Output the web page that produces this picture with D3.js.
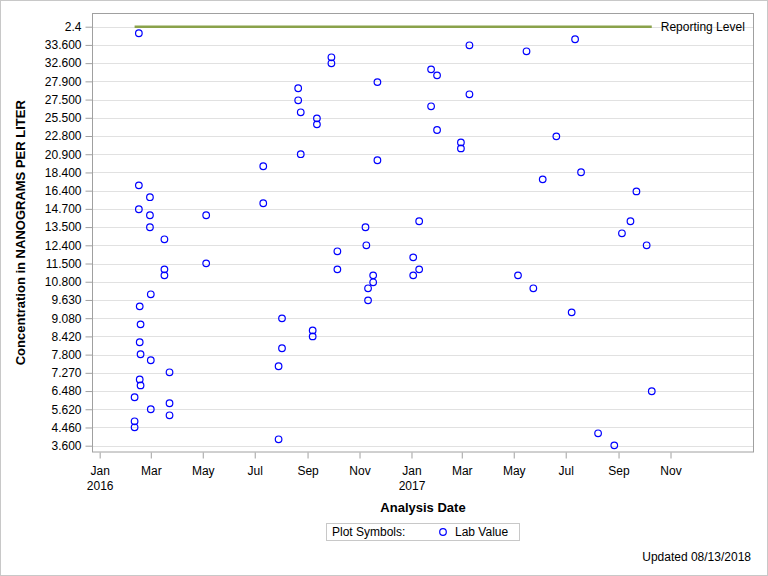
<!DOCTYPE html>
<html><head><meta charset="utf-8">
<script src="https://cdn.jsdelivr.net/npm/d3@7"></script>
<style>
html,body{margin:0;padding:0;background:#fff;}
svg{display:block;font-family:"Liberation Sans",Arial,sans-serif;}
</style></head>
<body><svg id="c" width="768" height="576"></svg>
<script>
// Y axis tick labels (top to bottom); axis positions are tick indices 0..23
const yTickLabels = ["2.4","33.600","32.600","27.900","27.500","25.500","22.800","20.900","18.400","16.400","14.700","13.500","12.400","11.500","10.800","9.630","9.080","8.420","7.800","7.270","6.480","5.620","4.460","3.600"];
const reportingLevel = 0; // position of the "2.4" reporting level
const reportingStart = "2016-02-11", reportingEnd = "2017-10-10";
const xTickDates = ["2016-01-01","2016-03-01","2016-05-01","2016-07-01","2016-09-01","2016-11-01","2017-01-01","2017-03-01","2017-05-01","2017-07-01","2017-09-01","2017-11-01"];
// Lab values: analysis date and position on the y axis
const sampleDates = [
 "2016-02-11","2016-02-11","2016-02-11",
 "2016-02-16","2016-02-16","2016-02-16",
 "2016-02-17","2016-02-17","2016-02-17",
 "2016-02-18","2016-02-18","2016-02-18",
 "2016-02-29","2016-02-29","2016-02-29",
 "2016-03-01","2016-03-01","2016-03-01",
 "2016-03-17","2016-03-17","2016-03-17",
 "2016-03-23","2016-03-23","2016-03-23",
 "2016-05-05","2016-05-05",
 "2016-07-11","2016-07-11",
 "2016-07-29","2016-07-29",
 "2016-08-02","2016-08-02",
 "2016-08-21","2016-08-21",
 "2016-08-24","2016-08-24",
 "2016-09-07","2016-09-07",
 "2016-09-12","2016-09-12",
 "2016-09-29","2016-09-29",
 "2016-10-06","2016-10-06",
 "2016-11-08","2016-11-09",
 "2016-11-11","2016-11-11",
 "2016-11-17","2016-11-17",
 "2016-11-22","2016-11-22",
 "2017-01-03","2017-01-03",
 "2017-01-10","2017-01-10",
 "2017-01-24","2017-01-24",
 "2017-01-31","2017-01-31",
 "2017-02-28","2017-02-28",
 "2017-03-10","2017-03-10",
 "2017-05-06","2017-05-16","2017-05-24","2017-06-04","2017-06-20",
 "2017-07-08","2017-07-12","2017-07-19","2017-08-08","2017-08-27",
 "2017-09-05","2017-09-15","2017-09-22","2017-10-04","2017-10-10"
];
const sampleValues = [
 20.34,21.66,21.99,
 0.36,8.71,10.02,
 15.35,17.32,19.36,
 16.34,17.98,19.69,
 9.36,10.35,11.01,
 14.69,18.31,21.00,
 11.67,13.32,13.65,
 18.97,20.67,21.33,
 10.35,12.99,
 7.66,9.69,
 18.64,22.65,
 16.01,17.65,
 3.38,4.04,
 4.70,7.00,
 16.67,17.00,
 5.03,5.36,
 1.68,2.01,
 12.33,13.32,
 11.01,12.00,
 14.36,15.02,
 13.65,14.03,
 3.04,7.33,
 12.66,13.65,
 10.68,13.32,
 2.34,4.37,
 2.67,5.67,
 6.35,6.68,
 1.02,3.71,
 13.65,1.35,14.36,8.38,6.02,
 15.68,0.69,7.99,22.32,22.98,
 11.34,10.68,9.04,12.00,20.01
];
const xDomain = ["2015-12-23","2018-02-07"];

const parse = d3.utcParse("%Y-%m-%d");
const svg = d3.select("#c");
const L = 92, R = 754, T = 13, B = 452.5;

// outer border
svg.append("rect").attr("x",0.5).attr("y",0.5).attr("width",767).attr("height",575)
  .attr("fill","#fff").attr("stroke","#c8c8c8");

const x = d3.scaleUtc().domain(xDomain.map(parse)).range([L, R]);
const y = d3.scaleLinear().domain([0, yTickLabels.length-1]).range([26.7, 445.7]);

// gridlines
svg.append("g").selectAll("line").data(d3.range(yTickLabels.length)).join("line")
  .attr("x1",L).attr("x2",R).attr("y1",d=>Math.round(y(d))+0.5).attr("y2",d=>Math.round(y(d))+0.5)
  .attr("stroke","#e1e1e1").attr("stroke-width",1);

// reporting level line
svg.append("line").attr("x1",x(parse(reportingStart))).attr("x2",x(parse(reportingEnd)))
  .attr("y1",y(reportingLevel)).attr("y2",y(reportingLevel))
  .attr("stroke","#8aa24a").attr("stroke-width",2.5);
svg.append("text").attr("x",x(parse(reportingEnd))+9).attr("y",y(reportingLevel)+4.5)
  .attr("font-size",12).attr("fill","#000").text("Reporting Level");

// points
svg.append("g").selectAll("circle").data(sampleDates.map((d,i)=>({d:parse(d),v:sampleValues[i]}))).join("circle")
  .attr("cx",d=>x(d.d)).attr("cy",d=>y(d.v)).attr("r",3.3)
  .attr("fill","none").attr("stroke","#0000ff").attr("stroke-width",1.2);

// frame
svg.append("rect").attr("x",L+0.5).attr("y",T+0.5).attr("width",R-L-1).attr("height",B-T-1)
  .attr("fill","none").attr("stroke","#a0a0a0");

// y axis
const yAxis = d3.axisLeft(y).tickValues(d3.range(yTickLabels.length)).tickFormat(i=>yTickLabels[i]).tickSize(7).tickPadding(4);
const gy = svg.append("g").attr("transform",`translate(${L+0.5},0)`).call(yAxis);
gy.select(".domain").remove();
gy.selectAll(".tick line").attr("stroke","#a0a0a0");
gy.selectAll(".tick text").attr("font-size",12).attr("fill","#000").style("font-family","Liberation Sans, Arial, sans-serif");

// x axis
const monthFmt = d3.utcFormat("%b");
const xAxis = d3.axisBottom(x).tickValues(xTickDates.map(parse)).tickFormat(d=>monthFmt(d)).tickSize(6).tickPadding(8);
const gx = svg.append("g").attr("transform",`translate(0,${B})`).call(xAxis);
gx.select(".domain").remove();
gx.selectAll(".tick line").attr("stroke","#a0a0a0");
gx.selectAll(".tick text").attr("font-size",12).attr("fill","#000").style("font-family","Liberation Sans, Arial, sans-serif")
  .each(function(d){
    if (d.getUTCMonth()===0) {
      d3.select(this).append("tspan").attr("x",0).attr("dy","1.25em").text(d.getUTCFullYear());
    }
  });

// axis titles
svg.append("text").attr("x",(L+R)/2).attr("y",512).attr("text-anchor","middle")
  .attr("font-size",13).attr("font-weight","bold").text("Analysis Date");
svg.append("text").attr("transform",`translate(25,${(T+B)/2}) rotate(-90)`).attr("text-anchor","middle")
  .attr("font-size",13).attr("font-weight","bold").text("Concentration in NANOGRAMS PER LITER");

// legend
svg.append("rect").attr("x",326.5).attr("y",523.5).attr("width",193).attr("height",17)
  .attr("fill","#fff").attr("stroke","#c8c8c8");
svg.append("text").attr("x",332).attr("y",536).attr("font-size",12).text("Plot Symbols:");
svg.append("circle").attr("cx",443).attr("cy",532).attr("r",3.3).attr("fill","none").attr("stroke","#0000ff").attr("stroke-width",1.2);
svg.append("text").attr("x",455).attr("y",536).attr("font-size",12).text("Lab Value");

// footnote
svg.append("text").attr("x",751).attr("y",561).attr("text-anchor","end").attr("font-size",12).text("Updated 08/13/2018");
</script></body></html>
